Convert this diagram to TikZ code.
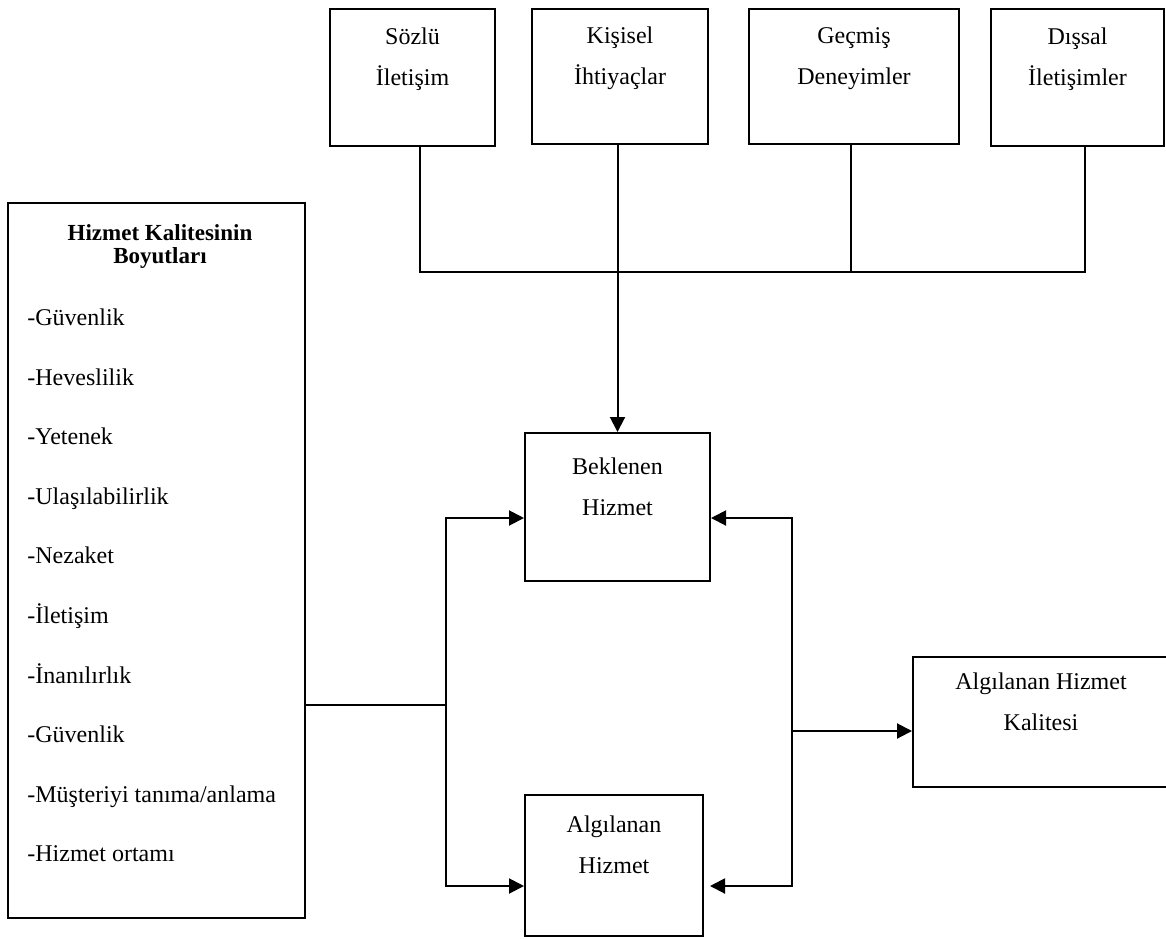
\documentclass[tikz,border=0pt]{standalone}
\usepackage{fontspec}
\setmainfont{Liberation Serif}
\usetikzlibrary{arrows.meta}

\begin{document}
\begin{tikzpicture}[x=0.5pt,y=-0.5pt,
  box/.style={draw,line width=1pt,inner sep=0pt,align=center,font=\fontsize{12}{20.5}\selectfont},
  link/.style={line width=1pt,line cap=rect},
  arrow/.style={link,-{Triangle[length=7.5pt,width=7.5pt]}},
  item/.style={anchor=base west,inner sep=0pt,font=\fontsize{12}{14}\selectfont}]
\useasboundingbox (0,0) rectangle (1166,938);

% Sources (top row)
\node[box,minimum width=82.5pt,minimum height=68.5pt] (sozlu) at (412.5,77.5) {Sözlü\\İletişim\\\mbox{}};
\node[box,minimum width=88pt,minimum height=67.5pt] (kisisel) at (620,76.5) {Kişisel\\İhtiyaçlar\\\mbox{}};
\node[box,minimum width=105pt,minimum height=67.5pt] (gecmis) at (854,76.5) {Geçmiş\\Deneyimler\\\mbox{}};
\node[box,minimum width=86.5pt,minimum height=68.5pt] (dissal) at (1077.5,77.5) {Dışsal\\İletişimler\\\mbox{}};

% Dimensions (left)
\node[draw,line width=1pt,minimum width=148.5pt,minimum height=357.5pt] (boyut) at (156.5,560.5) {};
\node[anchor=north,inner sep=0pt,align=center,font=\fontsize{11.5}{11.5}\selectfont\bfseries] (baslik) at (160,224) {Hizmet Kalitesinin\\Boyutları};
\node[item] (m1) at (27,325) {-Güvenlik};
\node[item] (m2) at (27,385) {-Heveslilik};
\node[item] (m3) at (27,444) {-Yetenek};
\node[item] (m4) at (27,504) {-Ulaşılabilirlik};
\node[item] (m5) at (27,563) {-Nezaket};
\node[item] (m6) at (27,623) {-İletişim};
\node[item] (m7) at (27,683) {-İnanılırlık};
\node[item] (m8) at (27,742) {-Güvenlik};
\node[item] (m9) at (27,802) {-Müşteriyi tanıma/anlama};
\node[item] (m10) at (27,861) {-Hizmet ortamı};

% Expected / perceived service (middle)
\node[box,minimum width=92.5pt,minimum height=74pt] (beklenen) at (617.5,507) {Beklenen\\Hizmet\\\mbox{}};
\node[box,minimum width=89pt,minimum height=70.5pt] (algilanan) at (614,865.5) {Algılanan\\Hizmet\\\mbox{}};

% Result (right)
\node[box,minimum width=128pt,minimum height=65pt] (kalite) at (1041,722) {Algılanan Hizmet\\Kalitesi\\\mbox{}};

% Bus from the sources
\coordinate (busW) at (420,272);
\coordinate (busE) at (1085,272);
\coordinate (busG) at (851,272);
\draw[link] (sozlu.south -| busW) -- (busW) -- (busE) -- (dissal.south -| busE);
\draw[link] (gecmis.south -| busG) -- (busG);
\draw[arrow] (kisisel.south -| beklenen.north) -- (beklenen.north);

% Left fork
\coordinate (solU) at (446,518);
\coordinate (solO) at (446,705);
\coordinate (solA) at (446,886);
\draw[link] (boyut.east |- solO) -- (solO);
\draw[arrow] (solA) -- (solU) -- (beklenen.west |- solU);
\draw[arrow] (solA) -- (algilanan.west |- solA);

% Right fork
\coordinate (sagU) at (792,518);
\coordinate (sagO) at (792,731);
\coordinate (sagA) at (792,886);
\draw[arrow] (sagA) -- (sagU) -- (beklenen.east |- sagU);
\draw[arrow,shorten >=3pt] (sagA) -- (algilanan.east |- sagA);
\draw[arrow] (sagO) -- (kalite.west |- sagO);
\end{tikzpicture}
\end{document}
